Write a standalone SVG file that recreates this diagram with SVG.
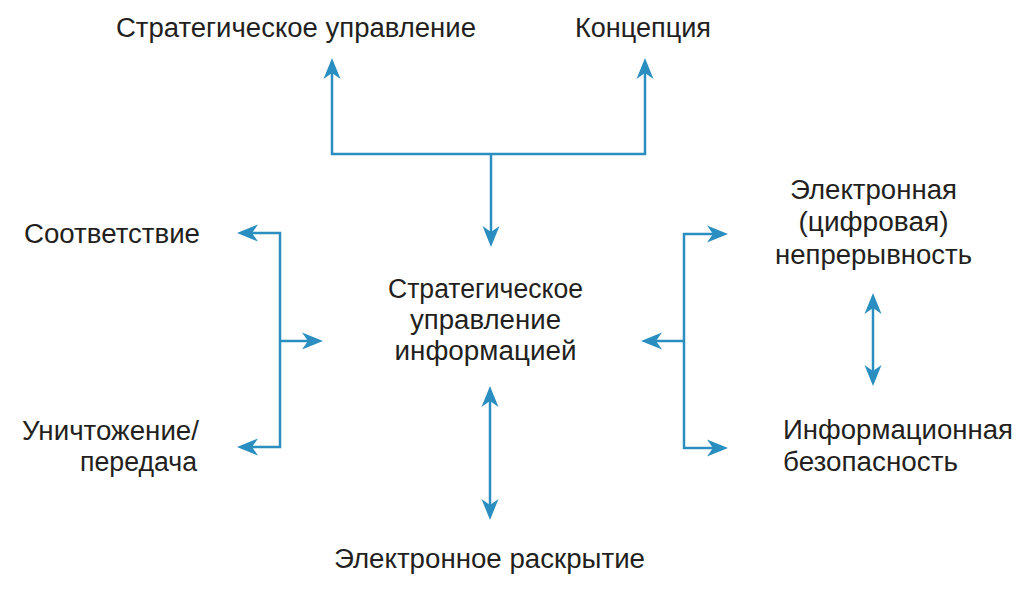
<svg xmlns="http://www.w3.org/2000/svg" width="1031" height="593" viewBox="0 0 1031 593">
<style>
  text { font-family: "Liberation Sans", Arial, sans-serif; font-size: 27px; fill: #231f20; }
  .c { text-anchor: middle; }
  .conn { fill: none; stroke: #2a8fc0; stroke-width: 2.5; marker-start: url(#ah); marker-end: url(#ah); }
  .one { marker-start: none; }
</style>
<defs>
  <marker id="ah" viewBox="-14 -10 24 20" refX="0" refY="0" markerWidth="24" markerHeight="20" markerUnits="userSpaceOnUse" orient="auto-start-reverse">
    <path d="M8,0 L-13,-8.5 L-7,0 L-13,8.5 Z" fill="#2a8fc0"/>
  </marker>
</defs>
<rect width="1031" height="593" fill="#ffffff"/>
<g id="connectors">
  <path class="conn" d="M332,66 V154 H645 V66"/>
  <path class="conn one" d="M491,154 V239"/>
  <path class="conn" d="M245,233 H280 V447 H245"/>
  <path class="conn one" d="M280,341 H315"/>
  <path class="conn" d="M720,234 H684 V448 H720"/>
  <path class="conn one" d="M684,341 H649"/>
  <path class="conn" d="M873,301 V378"/>
  <path class="conn" d="M490,394 V512"/>
</g>
<g id="node-strategic-management"><text class="c" x="296" y="37" textLength="360" lengthAdjust="spacingAndGlyphs">Стратегическое управление</text></g>
<g id="node-concept"><text class="c" x="643" y="37" textLength="136" lengthAdjust="spacingAndGlyphs">Концепция</text></g>
<g id="node-compliance"><text x="24" y="243" textLength="176" lengthAdjust="spacingAndGlyphs">Соответствие</text></g>
<g id="node-destruction"><text class="c" x="110.5" y="440" textLength="177" lengthAdjust="spacingAndGlyphs">Уничтожение/</text><text class="c" x="138.5" y="471" textLength="117" lengthAdjust="spacingAndGlyphs">передача</text></g>
<g id="node-center"><text class="c" x="485.5" y="298" textLength="195" lengthAdjust="spacingAndGlyphs">Стратегическое</text><text class="c" x="485.5" y="329" textLength="151" lengthAdjust="spacingAndGlyphs">управление</text><text class="c" x="485.5" y="360" textLength="182" lengthAdjust="spacingAndGlyphs">информацией</text></g>
<g id="node-digital-continuity"><text class="c" x="873.5" y="199" textLength="167" lengthAdjust="spacingAndGlyphs">Электронная</text><text class="c" x="873.5" y="231" textLength="150" lengthAdjust="spacingAndGlyphs">(цифровая)</text><text class="c" x="873.5" y="264" textLength="197" lengthAdjust="spacingAndGlyphs">непрерывность</text></g>
<g id="node-infosec"><text x="783" y="439" textLength="230" lengthAdjust="spacingAndGlyphs">Информационная</text><text x="783" y="471" textLength="175" lengthAdjust="spacingAndGlyphs">безопасность</text></g>
<g id="node-ediscovery"><text class="c" x="489.5" y="568" textLength="311" lengthAdjust="spacingAndGlyphs">Электронное раскрытие</text></g>
</svg>
